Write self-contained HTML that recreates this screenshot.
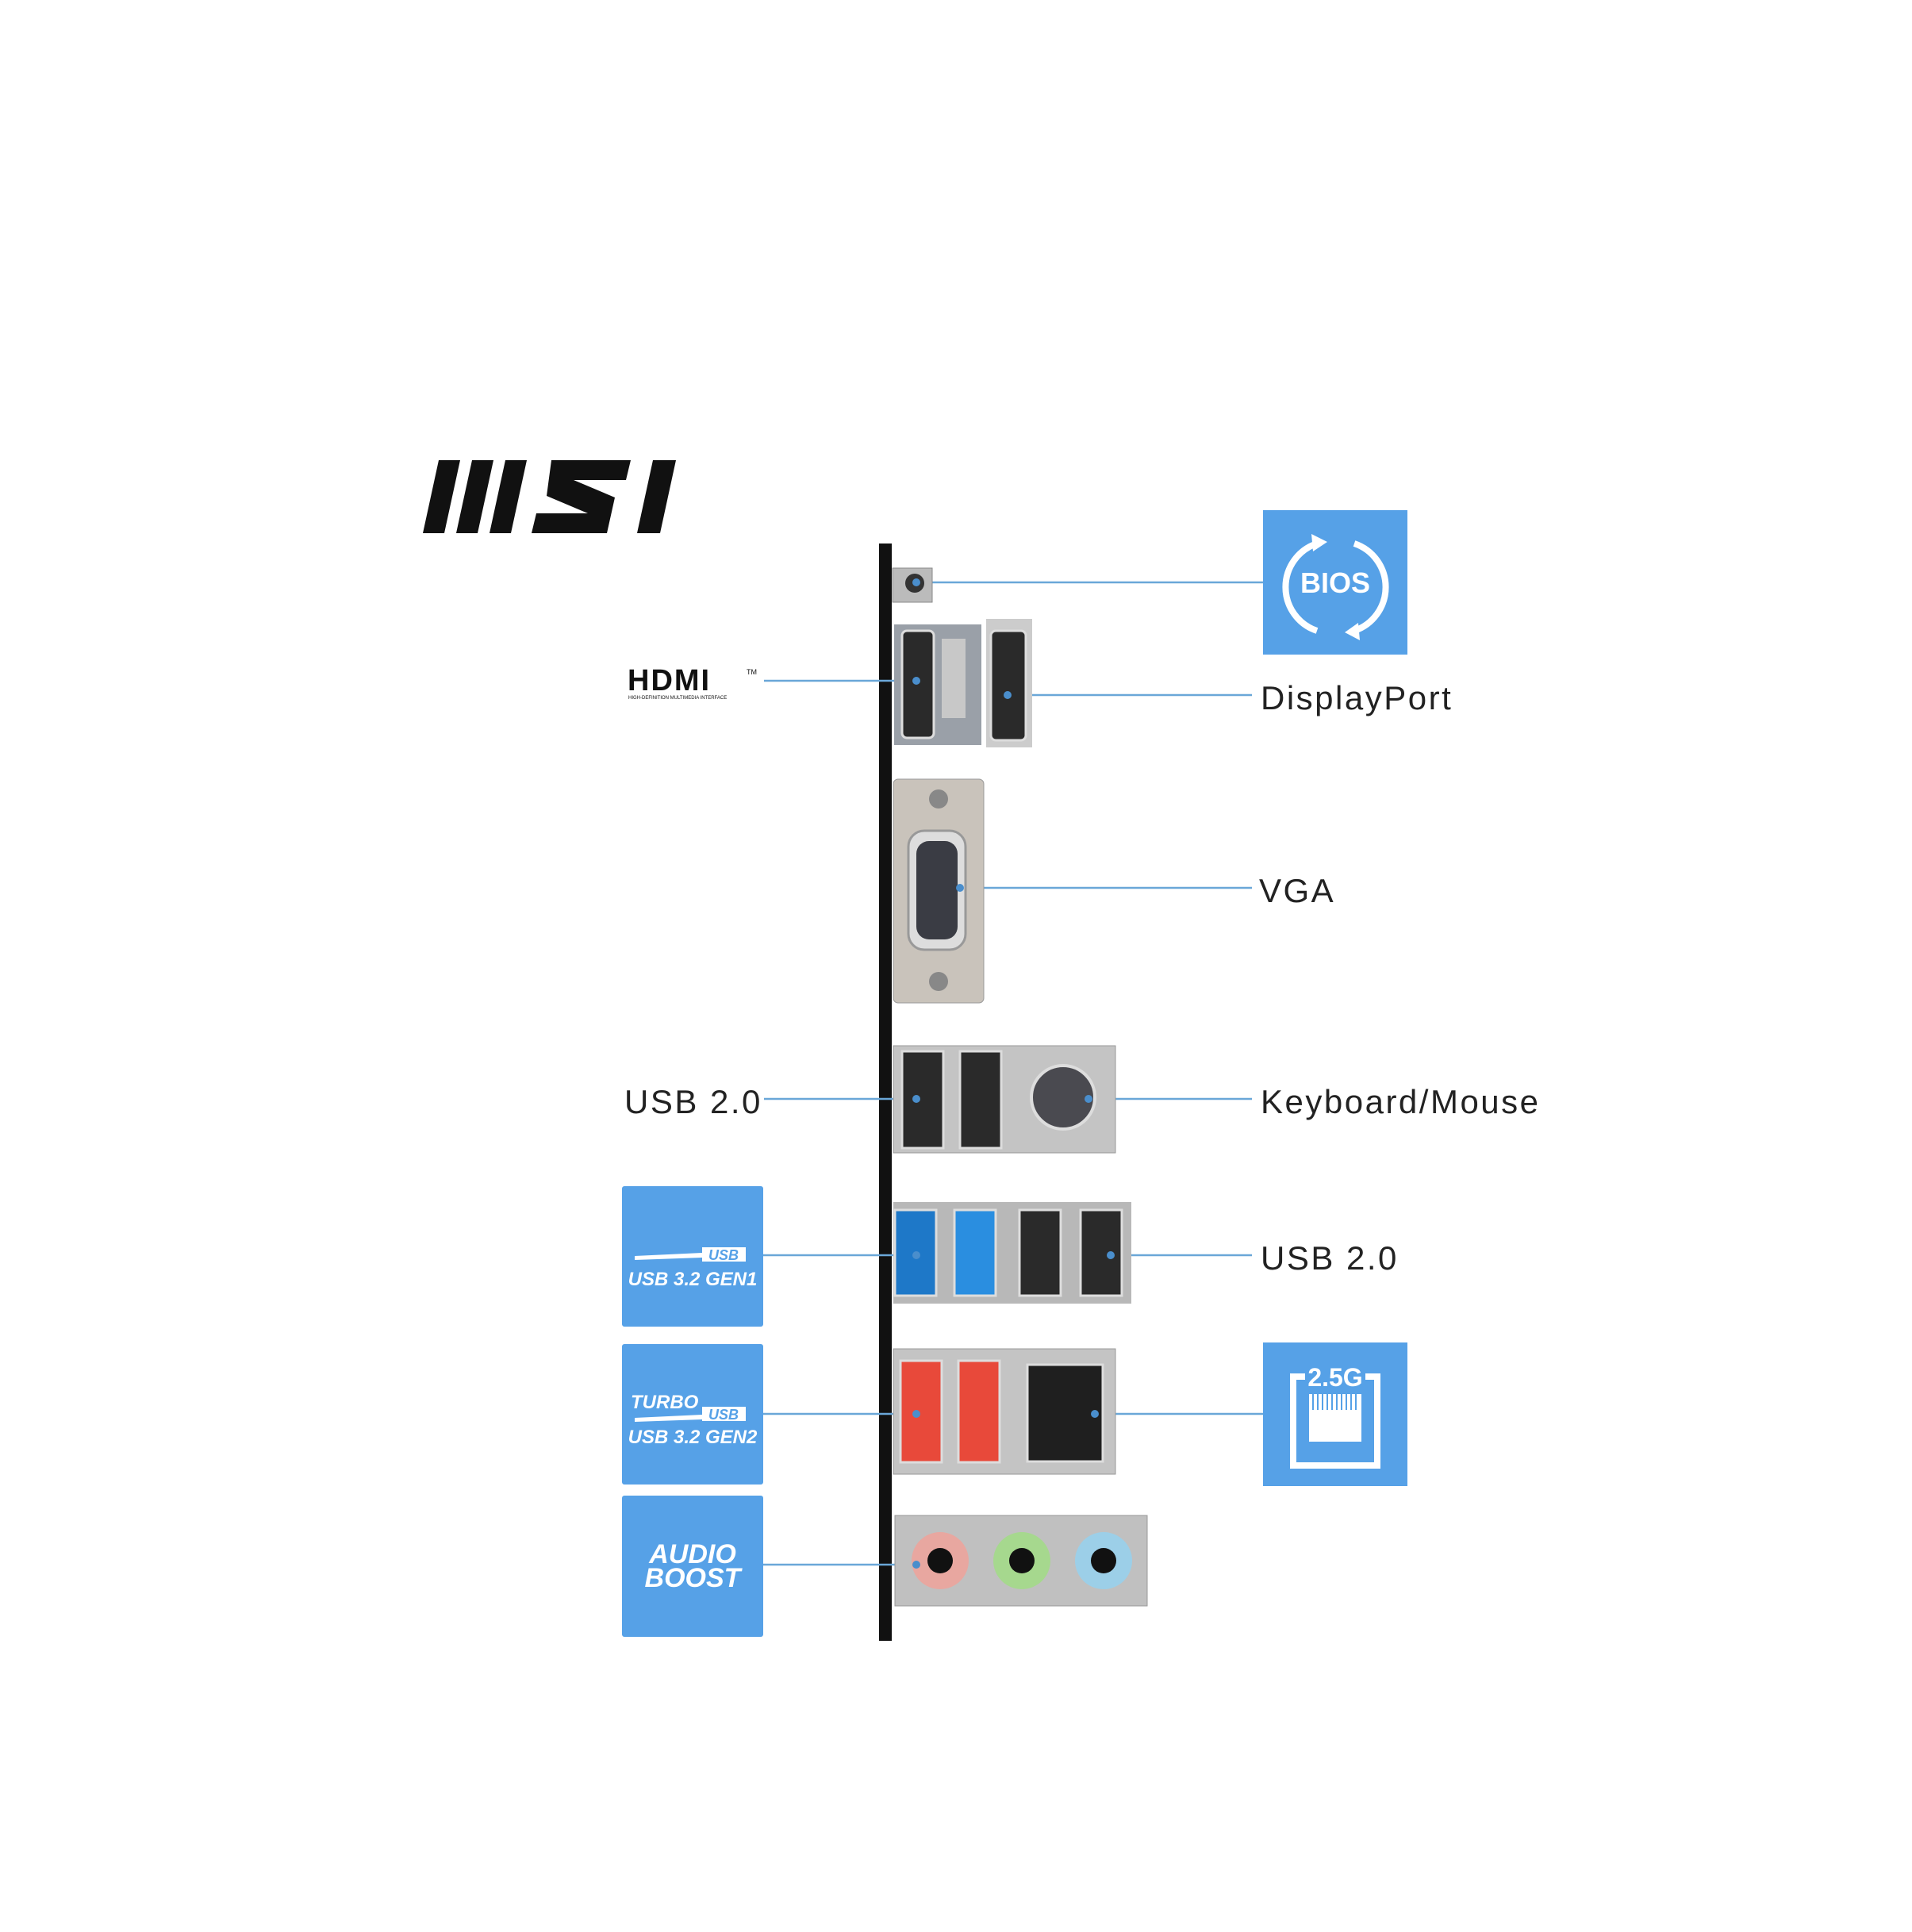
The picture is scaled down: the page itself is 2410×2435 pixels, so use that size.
<!DOCTYPE html>
<html><head><meta charset="utf-8"><style>
html,body{margin:0;padding:0;background:#fff}
body{width:2410px;height:2435px;position:relative;overflow:hidden;font-family:"Liberation Sans",sans-serif}
.t{position:absolute;font-size:42px;color:#222;letter-spacing:2.5px;line-height:1;white-space:nowrap}
</style></head><body>
<svg width="2410" height="2435" style="position:absolute;left:0;top:0" xmlns="http://www.w3.org/2000/svg">
<g transform="translate(5,5)">
<g fill="#111">
<polygon points="548,575 575,575 555,667 528,667"/>
<polygon points="590,575 617,575 597,667 570,667"/>
<polygon points="632,575 659,575 639,667 612,667"/>
<polygon points="690,575 790,575 784,600 718,600 770,622 760,667 665,667 671,642 736,642 684,620"/>
<polygon points="818,575 847,575 827,667 798,667"/>
</g>
<rect x="1103" y="680" width="16" height="1383" fill="#111"/>
<g stroke="#6aa7d8" stroke-width="2.5" fill="none">
<line x1="1150" y1="729" x2="1587" y2="729"/>
<line x1="958" y1="853" x2="1150" y2="853"/>
<line x1="1265" y1="871" x2="1573" y2="871"/>
<line x1="1205" y1="1114" x2="1573" y2="1114"/>
<line x1="958" y1="1380" x2="1150" y2="1380"/>
<line x1="1367" y1="1380" x2="1573" y2="1380"/>
<line x1="956" y1="1577" x2="1150" y2="1577"/>
<line x1="1395" y1="1577" x2="1573" y2="1577"/>
<line x1="956" y1="1777" x2="1150" y2="1777"/>
<line x1="1375" y1="1777" x2="1587" y2="1777"/>
<line x1="956" y1="1967" x2="1150" y2="1967"/>
</g>
<rect x="1120" y="711" width="50" height="43" fill="#bbb" stroke="#888"/>
<circle cx="1148" cy="730" r="12" fill="#333"/>
<rect x="1122" y="782" width="110" height="152" fill="#9aa0a8"/>
<rect x="1132" y="790" width="40" height="135" rx="6" fill="#2a2a2a" stroke="#ddd" stroke-width="3"/>
<rect x="1182" y="800" width="30" height="100" fill="#c8c8c8"/>
<rect x="1238" y="775" width="58" height="162" fill="#ccc"/>
<rect x="1244" y="790" width="44" height="138" rx="6" fill="#2a2a2a" stroke="#ddd" stroke-width="3"/>
<rect x="1121" y="977" width="114" height="282" rx="6" fill="#c9c3bb" stroke="#999"/>
<circle cx="1178" cy="1002" r="12" fill="#888"/>
<circle cx="1178" cy="1232" r="12" fill="#888"/>
<rect x="1140" y="1042" width="72" height="150" rx="20" fill="#ddd" stroke="#999" stroke-width="3"/>
<rect x="1150" y="1055" width="52" height="124" rx="16" fill="#3a3c44"/>
<rect x="1121" y="1313" width="280" height="135" fill="#c4c4c4" stroke="#999"/>
<rect x="1132" y="1320" width="52" height="122" fill="#2a2a2a" stroke="#ddd" stroke-width="3"/>
<rect x="1205" y="1320" width="52" height="122" fill="#2a2a2a" stroke="#ddd" stroke-width="3"/>
<circle cx="1335" cy="1378" r="40" fill="#4a4a50" stroke="#ddd" stroke-width="4"/>
<rect x="1121" y="1510" width="300" height="128" fill="#b8b8b8"/>
<rect x="1123" y="1520" width="52" height="108" fill="#1e78c8" stroke="#ddd" stroke-width="3"/>
<rect x="1198" y="1520" width="52" height="108" fill="#2a8ee0" stroke="#ddd" stroke-width="3"/>
<rect x="1280" y="1520" width="52" height="108" fill="#2a2a2a" stroke="#ddd" stroke-width="3"/>
<rect x="1357" y="1520" width="52" height="108" fill="#2a2a2a" stroke="#ddd" stroke-width="3"/>
<rect x="1121" y="1695" width="280" height="158" fill="#c4c4c4" stroke="#999"/>
<rect x="1130" y="1710" width="52" height="128" fill="#e8493a" stroke="#ddd" stroke-width="3"/>
<rect x="1203" y="1710" width="52" height="128" fill="#e8493a" stroke="#ddd" stroke-width="3"/>
<rect x="1290" y="1715" width="95" height="122" fill="#1f1f1f" stroke="#ddd" stroke-width="3"/>
<rect x="1123" y="1905" width="318" height="114" fill="#c0c0c0" stroke="#999"/>
<circle cx="1180" cy="1962" r="36" fill="#e8a7a0"/><circle cx="1180" cy="1962" r="16" fill="#111"/>
<circle cx="1283" cy="1962" r="36" fill="#a6d88e"/><circle cx="1283" cy="1962" r="16" fill="#111"/>
<circle cx="1386" cy="1962" r="36" fill="#9ccfe8"/><circle cx="1386" cy="1962" r="16" fill="#111"/>
<g fill="#4a8ecc">
<circle cx="1150" cy="729" r="5"/><circle cx="1150" cy="853" r="5"/><circle cx="1265" cy="871" r="5"/>
<circle cx="1205" cy="1114" r="5"/><circle cx="1150" cy="1380" r="5"/><circle cx="1367" cy="1380" r="5"/>
<circle cx="1150" cy="1577" r="5"/><circle cx="1395" cy="1577" r="5"/><circle cx="1150" cy="1777" r="5"/>
<circle cx="1375" cy="1777" r="5"/><circle cx="1150" cy="1967" r="5"/>
</g>
<g fill="#56a1e7">
<rect x="1587" y="638" width="182" height="182"/>
<rect x="1587" y="1687" width="182" height="181"/>
<rect x="779" y="1490" width="178" height="177" rx="3"/>
<rect x="779" y="1689" width="178" height="177" rx="3"/>
<rect x="779" y="1880" width="178" height="178" rx="3"/>
</g>
<g stroke="#fff" stroke-width="8" fill="none">
<path d="M1655,680 A58,58 0 0 0 1655,790"/>
<path d="M1702,680 A58,58 0 0 1 1702,790"/>
</g>
<polygon points="1648,668 1668,678 1650,690" fill="#fff"/>
<polygon points="1709,802 1690,792 1707,780" fill="#fff"/>
<text x="1678" y="742" font-family="Liberation Sans" font-weight="bold" font-size="36" fill="#fff" text-anchor="middle">BIOS</text>
<rect x="1625" y="1730" width="106" height="112" fill="none" stroke="#fff" stroke-width="8"/>
<rect x="1640" y="1715" width="76" height="30" fill="#56a1e7"/>
<text x="1678" y="1742" font-family="Liberation Sans" font-weight="bold" font-size="32" fill="#fff" text-anchor="middle">2.5G</text>
<rect x="1645" y="1752" width="66" height="60" fill="#fff"/>
<g stroke="#56a1e7" stroke-width="2"><line x1="1650" y1="1752" x2="1650" y2="1772"/><line x1="1656" y1="1752" x2="1656" y2="1772"/><line x1="1662" y1="1752" x2="1662" y2="1772"/><line x1="1668" y1="1752" x2="1668" y2="1772"/><line x1="1674" y1="1752" x2="1674" y2="1772"/><line x1="1680" y1="1752" x2="1680" y2="1772"/><line x1="1686" y1="1752" x2="1686" y2="1772"/><line x1="1692" y1="1752" x2="1692" y2="1772"/><line x1="1698" y1="1752" x2="1698" y2="1772"/><line x1="1704" y1="1752" x2="1704" y2="1772"/></g>
<g fill="#fff" font-family="Liberation Sans" font-weight="bold" font-style="italic">
<polygon points="795,1578 880,1574 880,1580 795,1583"/>
<rect x="880" y="1567" width="55" height="18" fill="#fff"/>
<text x="907" y="1583" font-size="18" fill="#56a1e7" text-anchor="middle">USB</text>
<text x="868" y="1615" font-size="24" text-anchor="middle">USB 3.2 GEN1</text>
<text x="790" y="1770" font-size="24">TURBO</text>
<polygon points="795,1782 880,1778 880,1784 795,1787"/>
<rect x="880" y="1768" width="55" height="18" fill="#fff"/>
<text x="907" y="1784" font-size="18" fill="#56a1e7" text-anchor="middle">USB</text>
<text x="868" y="1814" font-size="24" text-anchor="middle">USB 3.2 GEN2</text>
<text x="868" y="1965" font-size="34" text-anchor="middle">AUDIO</text>
<text x="868" y="1995" font-size="34" text-anchor="middle">BOOST</text>
</g>
<text x="786" y="865" font-family="Liberation Sans" font-weight="bold" font-size="38" fill="#111" letter-spacing="2">HDMI</text>
<text x="936" y="845" font-family="Liberation Sans" font-size="9" fill="#111">TM</text>
<text x="787" y="876" font-family="Liberation Sans" font-size="6" fill="#111">HIGH-DEFINITION MULTIMEDIA INTERFACE</text>
</g>
</svg>
<div class="t" style="left:1589px;top:859px">DisplayPort</div>
<div class="t" style="left:1587px;top:1102px">VGA</div>
<div class="t" style="left:787px;top:1368px">USB 2.0</div>
<div class="t" style="left:1589px;top:1368px">Keyboard/Mouse</div>
<div class="t" style="left:1589px;top:1565px">USB 2.0</div>
</body></html>
